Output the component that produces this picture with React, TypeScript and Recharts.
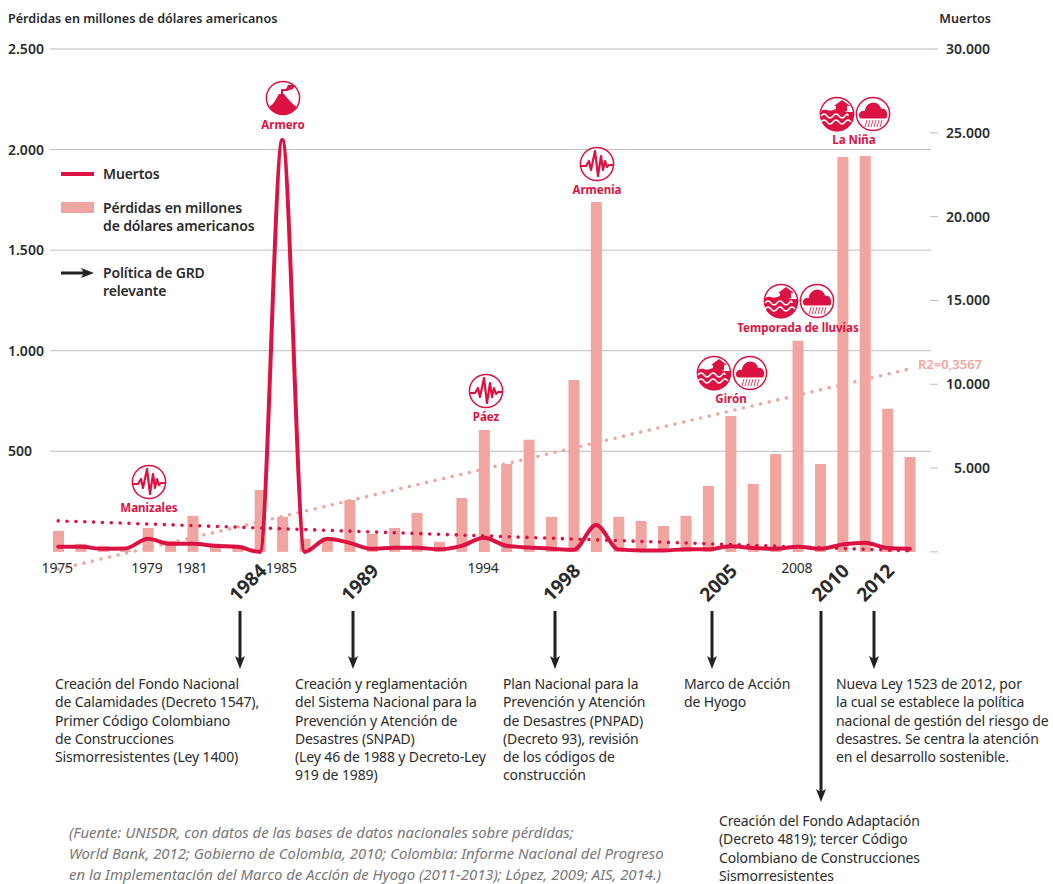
import { Bar, ComposedChart, CartesianGrid, Line, XAxis, YAxis } from 'recharts';

const FONT = '"Noto Sans", sans-serif';
const RED = '#DB1242';
const PINK = '#F0A5A0';
const INK = '#2B2B2B';

const years = [
  1975, 1976, 1977, 1978, 1979, 1980, 1981, 1982, 1983, 1984, 1985, 1986, 1987,
  1988, 1989, 1990, 1991, 1992, 1993, 1994, 1995, 1996, 1997, 1998, 1999, 2000,
  2001, 2002, 2003, 2004, 2005, 2006, 2007, 2008, 2009, 2010, 2011, 2012, 2013,
];
const perdidas = [
  104, 40, 30, 8, 119, 55, 179, 40, 35, 308, 174, 65, 70,
  258, 90, 119, 194, 50, 268, 606, 437, 557, 174, 855, 1740, 174,
  154, 129, 179, 328, 676, 338, 487, 1049, 437, 1963, 1968, 711, 472,
];
const muertos = [
  300, 300, 180, 200, 780, 480, 480, 360, 300, 0, 24580, 0, 780,
  540, 180, 240, 240, 150, 360, 840, 360, 260, 190, 120, 1600, 150,
  90, 90, 150, 150, 340, 230, 190, 300, 190, 440, 550, 230, 190,
];
const trendMuertos: Record<number, number> = { 1975: 1850, 2013: 60 };
const trendPerdidas: Record<number, number> = { 1975: -86, 2013: 910 };

const leftTicks = [500, 1000, 1500, 2000, 2500];
const rightTicks = [0, 5000, 10000, 15000, 20000, 25000, 30000];
const plainYears = [1975, 1979, 1981, 1985, 1994, 2008];
const policyYears = [1984, 1989, 1998, 2005, 2010, 2012];

const rows = years.map((year, i) => ({
  year,
  perdidas: perdidas[i],
  muertos: muertos[i],
  trendMuertos: trendMuertos[year] ?? null,
  trendPerdidas: trendPerdidas[year] ?? null,
}));

const fmt = (n: number) => String(n).replace(/\B(?=(\d{3})+$)/g, '.');

function LeftTick({ y, payload }: any) {
  return (
    <text x={8} y={y + 5} fontFamily={FONT} fontSize={14} fontWeight={600} fill={INK}>
      {fmt(payload.value)}
    </text>
  );
}

function RightTick({ y, payload }: any) {
  if (payload.value === 0) return null;
  return (
    <text x={990} y={y + 5} textAnchor="end" fontFamily={FONT} fontSize={14} fontWeight={600} fill={INK}>
      {fmt(payload.value)}
    </text>
  );
}

function YearTick({ x, payload }: any) {
  if (policyYears.includes(payload.value)) {
    return (
      <text
        transform={`translate(${x + 8}, 572) rotate(-45)`}
        textAnchor="end"
        fontFamily={FONT}
        fontSize={19}
        fontWeight={700}
        fill={INK}
      >
        {payload.value}
      </text>
    );
  }
  return (
    <text x={x - 1} y={573} textAnchor="middle" fontFamily={FONT} fontSize={14} letterSpacing={-0.2} fill={INK}>
      {payload.value}
    </text>
  );
}

function Lines({ x, y, lines, step = 18.25, size = 14, ...rest }: any) {
  return (
    <text x={x} fontFamily={FONT} fontSize={size} letterSpacing={-0.13} fill={INK} {...rest}>
      {lines.map((l: string, i: number) => (
        <tspan key={i} x={x} y={y + i * step}>
          {l}
        </tspan>
      ))}
    </text>
  );
}

function Arrow({ x, y1 = 611, y2 = 669 }: any) {
  return (
    <g>
      <line x1={x} x2={x} y1={y1} y2={y2 - 8} stroke="#222" strokeWidth={3} />
      <path d={`M${x - 5},${y2 - 13} L${x},${y2 - 10} L${x + 5},${y2 - 13} L${x},${y2} Z`} fill="#222" />
    </g>
  );
}

function Ring({ cx, cy, children }: any) {
  return (
    <g transform={`translate(${cx},${cy})`}>
      <circle r={16.6} fill="#fff" stroke={RED} strokeWidth={1.5} />
      {children}
    </g>
  );
}

function Quake({ cx, cy }: any) {
  return (
    <Ring cx={cx} cy={cy}>
      <polyline
        points="-16,2 -11,2 -8,-3 -6,6 -2,-13 1,12 4,-8 6,6 8,-3 10,3 12,1 16,1"
        fill="none"
        stroke={RED}
        strokeWidth={2.2}
        strokeLinejoin="round"
      />
    </Ring>
  );
}

function Volcano({ cx, cy }: any) {
  return (
    <Ring cx={cx} cy={cy}>
      <path d="M-14,9 C-9,6 -7,1 -4,-4 L1,-4 C5,1 9,6 14,9 C10,14 5,16.5 0,16.5 C-5,16.5 -10,14 -14,9 Z" fill={RED} />
      <path d="M-2,-4 L-2,-9 L3,-9 L5,-13 L12,-13 L10,-9 L4,-7 L0,-7 L0,-4 Z" fill={RED} />
    </Ring>
  );
}

function Flood({ cx, cy }: any) {
  return (
    <Ring cx={cx} cy={cy}>
      <path d="M-15.5,-3 C-12,-6 -8,-2 -4,-4 L-1,-5 L11,-2 L16.6,-2 L16.6,1 A16.6,16.6 0 0 1 -16.6,1 Z" fill={RED} />
      <path d="M-1,-3 L-1,-8 L-3,-8 L5,-14 L13,-8 L10,-8 L10,-3 Z" fill={RED} />
      <path d="M-16,2 q3,-4 6,0 t6,0 t6,0 t6,0 t3,0" fill="none" stroke="#fff" strokeWidth={1.5} />
      <path d="M-16,8 q3,-4 6,0 t6,0 t6,0 t6,0 t6,0" fill="none" stroke="#fff" strokeWidth={1.5} />
    </Ring>
  );
}

function Rain({ cx, cy }: any) {
  return (
    <Ring cx={cx} cy={cy}>
      <path
        d="M-13,4 C-16,0 -12,-4 -8,-3 C-8,-9 -2,-13 3,-11 C6,-10 8,-7 8,-5 C12,-6 15,-2 14,2 C14,4 13,4.5 11,4.5 L-11,4.5 Z"
        fill={RED}
      />
      <path
        d="M-8,13 L-6,6 M-5,13 L-3,6 M-2,13 L0,6 M1,13 L3,6 M4,13 L6,6 M7,13 L9,6"
        stroke={RED}
        strokeWidth={0.8}
      />
    </Ring>
  );
}

function Place({ x, y, children }: any) {
  return (
    <text x={x} y={y} textAnchor="middle" fontFamily={FONT} fontSize={11.5} fontWeight={700} fill={RED}>
      {children}
    </text>
  );
}

export default function App() {
  return (
    <div style={{ position: 'absolute', left: 0, top: 0, width: 1053, height: 884, background: '#fff', overflow: 'hidden' }}>
      <div style={{ position: 'absolute', left: 0, top: 0 }}>
        <ComposedChart
          width={1053}
          height={620}
          data={rows}
          margin={{ top: 49, right: 0, bottom: 0, left: 0 }}
          barSize={11}
        >
          <CartesianGrid
            yAxisId="left"
            x={50}
            width={881}
            vertical={false}
            horizontalValues={leftTicks}
            stroke="#BDBDBD"
          />
          <XAxis
            dataKey="year"
            height={48}
            ticks={[...plainYears, ...policyYears]}
            interval={0}
            padding={{ left: 0, right: 9 }}
            axisLine={false}
            tickLine={false}
            tick={<YearTick />}
          />
          <YAxis
            yAxisId="left"
            width={47}
            domain={[-100, 2500]}
            ticks={leftTicks}
            interval={0}
            axisLine={false}
            tickLine={false}
            tick={<LeftTick />}
          />
          <YAxis
            yAxisId="right"
            orientation="right"
            width={123}
            domain={[-1200, 30000]}
            ticks={rightTicks}
            interval={0}
            axisLine={false}
            tickSize={8}
            tickLine={{ stroke: '#BDBDBD' }}
            tick={<RightTick />}
          />
          <Bar yAxisId="left" dataKey="perdidas" fill={PINK} isAnimationActive={false} />
          <Line
            yAxisId="left"
            dataKey="trendPerdidas"
            connectNulls
            dot={false}
            stroke={PINK}
            strokeWidth={3.6}
            strokeLinecap="round"
            strokeDasharray="0 8.8"
            isAnimationActive={false}
          />
          <Line
            yAxisId="right"
            dataKey="trendMuertos"
            connectNulls
            dot={false}
            stroke={RED}
            strokeWidth={3.6}
            strokeLinecap="round"
            strokeDasharray="0 8.85"
            isAnimationActive={false}
          />
          <Line
            yAxisId="right"
            type="monotone"
            dataKey="muertos"
            dot={false}
            stroke={RED}
            strokeWidth={4}
            strokeLinecap="round"
            isAnimationActive={false}
          />
        </ComposedChart>
      </div>

      <svg width={1053} height={884} style={{ position: 'absolute', left: 0, top: 0, pointerEvents: 'none' }}>
        <text x={8} y={23} fontFamily={FONT} fontSize={12.6} fontWeight={600} fill={INK}>
          Pérdidas en millones de dólares americanos
        </text>
        <text x={991} y={23} textAnchor="end" fontFamily={FONT} fontSize={12.6} fontWeight={600} fill={INK}>
          Muertos
        </text>
        <text x={918} y={369} fontFamily={FONT} fontSize={13} fontWeight={600} fill={PINK}>
          R2=0,3567
        </text>

        <line x1={61} x2={94} y1={174} y2={174} stroke={RED} strokeWidth={4} />
        <rect x={61} y={202} width={33} height={11} fill={PINK} />
        <line x1={61} x2={88} y1={273} y2={273} stroke="#222" strokeWidth={3} />
        <path d="M81,268 L94,273 L81,278 L84,273 Z" fill="#222" />
        <Lines x={103} y={179} lines={['Muertos']} size={14} fontWeight={600} />
        <Lines x={103} y={213} lines={['Pérdidas en millones', 'de dólares americanos']} size={14} fontWeight={600} />
        <Lines x={103} y={278} lines={['Política de GRD', 'relevante']} size={14} fontWeight={600} />

        <Quake cx={149} cy={482} />
        <Place x={149} y={512}>Manizales</Place>
        <Volcano cx={283} cy={98} />
        <Place x={283} y={129}>Armero</Place>
        <Quake cx={486} cy={391} />
        <Place x={486} y={421}>Páez</Place>
        <Quake cx={597} cy={164} />
        <Place x={597} y={194}>Armenia</Place>
        <Flood cx={714} cy={373} />
        <Rain cx={750} cy={373} />
        <Place x={731} y={403}>Girón</Place>
        <Flood cx={781} cy={301} />
        <Rain cx={817} cy={301} />
        <Place x={798} y={332}>Temporada de lluvias</Place>
        <Flood cx={837} cy={114} />
        <Rain cx={873} cy={114} />
        <Place x={854} y={144}>La Niña</Place>

        <Arrow x={240} />
        <Arrow x={353} />
        <Arrow x={555} />
        <Arrow x={712} />
        <Arrow x={821} y2={802} />
        <Arrow x={874} />

        <Lines
          x={55}
          y={689}
          lines={[
            'Creación del Fondo Nacional',
            'de Calamidades (Decreto 1547),',
            'Primer Código Colombiano',
            'de Construcciones',
            'Sismorresistentes (Ley 1400)',
          ]}
        />
        <Lines
          x={295}
          y={689}
          lines={[
            'Creación y reglamentación',
            'del Sistema Nacional para la',
            'Prevención y Atención de',
            'Desastres (SNPAD)',
            '(Ley 46 de 1988 y Decreto-Ley',
            '919 de 1989)',
          ]}
        />
        <Lines
          x={503}
          y={689}
          lines={[
            'Plan Nacional para la',
            'Prevención y Atención',
            'de Desastres (PNPAD)',
            '(Decreto 93), revisión',
            'de los códigos de',
            'construcción',
          ]}
        />
        <Lines x={684} y={689} lines={['Marco de Acción', 'de Hyogo']} />
        <Lines
          x={836}
          y={689}
          lines={[
            'Nueva Ley 1523 de 2012, por',
            'la cual se establece la política',
            'nacional de gestión del riesgo de',
            'desastres. Se centra la atención',
            'en el desarrollo sostenible.',
          ]}
        />
        <Lines
          x={719}
          y={826}
          lines={[
            'Creación del Fondo Adaptación',
            '(Decreto 4819); tercer Código',
            'Colombiano de Construcciones',
            'Sismorresistentes',
          ]}
        />
        <Lines
          x={69}
          y={838}
          step={21}
          size={14.9}
          letterSpacing={0}
          fontStyle="italic"
          fill="#777"
          lines={[
            '(Fuente: UNISDR, con datos de las bases de datos nacionales sobre pérdidas;',
            'World Bank, 2012; Gobierno de Colombia, 2010; Colombia: Informe Nacional del Progreso',
            'en la Implementación del Marco de Acción de Hyogo (2011-2013); López, 2009; AIS, 2014.)',
          ]}
        />
      </svg>
    </div>
  );
}
